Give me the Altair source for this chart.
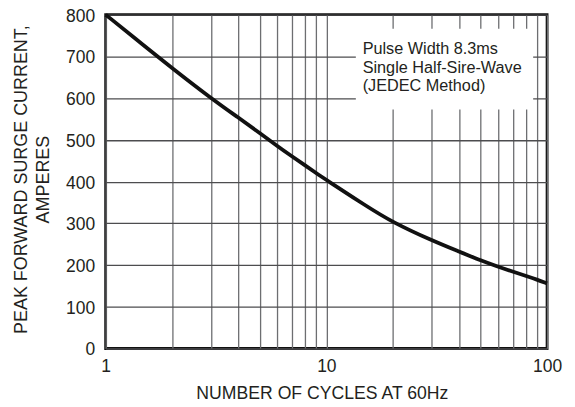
import altair as alt
import pandas as pd

# Curve
cycles = [1, 1.5, 2, 3, 4, 5, 6, 7, 8, 9, 10, 15, 20, 30, 40, 50, 60, 70, 80, 90, 100]
current = [800, 725, 672, 600, 553, 516, 485, 460, 439, 420, 404, 343, 302, 259, 232, 211, 196, 184, 174, 165, 156]

x_ticks = [1, 2, 3, 4, 5, 6, 7, 8, 9, 10, 20, 30, 40, 50, 60, 70, 80, 90, 100]
y_ticks = [0, 100, 200, 300, 400, 500, 600, 700, 800]

note_lines = ["Pulse Width 8.3ms", "Single Half-Sire-Wave", "(JEDEC Method)"]
# white box behind the note, in data units
box_x = [13.6, 86.5]
box_y = [573, 766]
note_pos = [14.6, 736]

FONT = "Liberation Sans"
TXT = "#231f20"

df = pd.DataFrame({"cycles": cycles, "current": current})

xscale = alt.Scale(type="log", domain=[1, 100])
yscale = alt.Scale(domain=[0, 800])

base = alt.Chart(df)

curve = base.mark_line(color="#111111", strokeWidth=3.8, interpolate="basis").encode(
    x=alt.X(
        "cycles:Q",
        scale=xscale,
        axis=alt.Axis(
            values=x_ticks,
            labelExpr="(datum.value == 1 || datum.value == 10 || datum.value == 100) ? datum.label : ''",
            title="NUMBER OF CYCLES AT 60Hz",
            grid=True,
            gridColor="#6d6e71",
            gridWidth=1.3,
            tickSize=0,
            domain=False,
            labelFlush=False,
            labelOverlap=False,
            labelPadding=9,
            labelFont=FONT,
            labelFontSize=17.5,
            labelColor=TXT,
            titleFont=FONT,
            titleFontSize=17.7,
            titleFontWeight="normal",
            titleColor=TXT,
            titleBaseline="alphabetic",
            titleY=50,
            titleX=217,
        ),
    ),
    y=alt.Y(
        "current:Q",
        scale=yscale,
        axis=alt.Axis(
            values=y_ticks,
            title=["PEAK FORWARD SURGE CURRENT,", "AMPERES"],
            grid=True,
            gridColor="#4d4d4f",
            gridWidth=1.3,
            tickSize=0,
            domain=False,
            labelPadding=11,
            labelOffset=1.5,
            labelFont=FONT,
            labelFontSize=17.5,
            labelColor=TXT,
            titleFont=FONT,
            titleFontSize=18,
            titleFontWeight="normal",
            titleColor=TXT,
            titleAngle=270,
            titleLineHeight=22,
            titleAlign="center",
            titleBaseline="middle",
            titleX=-84,
            titleY=165,
        ),
    ),
)

box_df = pd.DataFrame({"x": [box_x[0]], "x2": [box_x[1]], "y": [box_y[0]], "y2": [box_y[1]]})
box = alt.Chart(box_df).mark_rect(color="white").encode(
    x=alt.X("x:Q", scale=xscale),
    x2="x2:Q",
    y=alt.Y("y:Q", scale=yscale),
    y2="y2:Q",
)

note_df = pd.DataFrame({"x": [note_pos[0]], "y": [note_pos[1]], "t": [note_lines]})
note = alt.Chart(note_df).mark_text(
    align="left", baseline="top", font=FONT, fontSize=16.3, lineHeight=18.3, color=TXT
).encode(
    x=alt.X("x:Q", scale=xscale),
    y=alt.Y("y:Q", scale=yscale),
    text="t",
)

chart = (
    alt.layer(box, curve, note)
    .properties(
        width=443,
        height=335,
        autosize=alt.AutoSizeParams(type="none"),
        padding={"left": 98, "top": 6, "right": 20, "bottom": 55},
        background="white",
    )
    .configure_view(stroke="#111111", strokeWidth=2.8)
)

chart.save("out.html", embed_options={"renderer": "svg", "actions": False})
